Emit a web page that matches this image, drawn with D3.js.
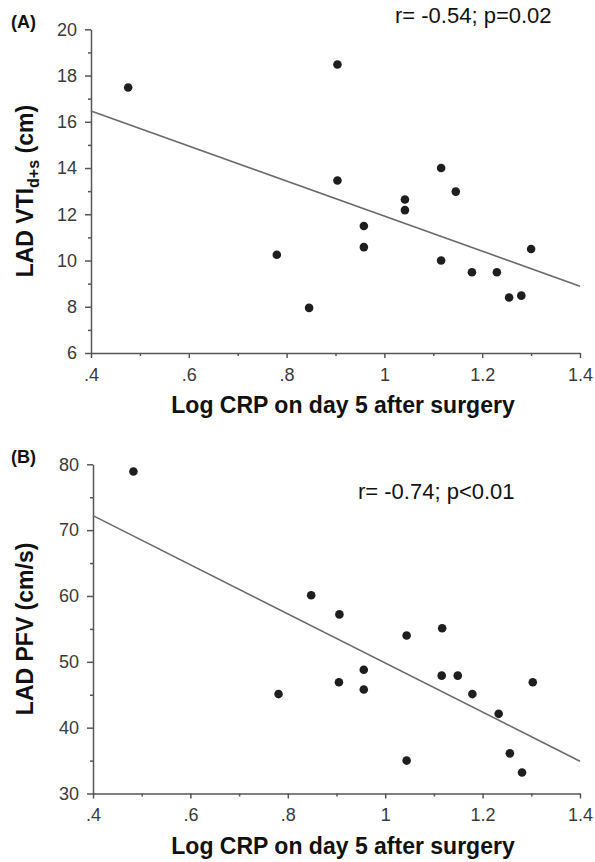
<!DOCTYPE html>
<html>
<head>
<meta charset="utf-8">
<script src="https://cdn.jsdelivr.net/npm/d3@7"></script>
<style>
  body { margin: 0; background: #fff; }
  svg { display: block; font-family: Arial, "Liberation Sans", sans-serif; }
</style>
</head>
<body>
<svg id="chart" width="595" height="862"></svg>
<script>
// values
const xTicks = [0.4, 0.6, 0.8, 1.0, 1.2, 1.4];
const xTickLabels = ['.4', '.6', '.8', '1', '1.2', '1.4'];
const xMinor = [0.5, 0.7, 0.9, 1.1, 1.3];

// panel A: LAD VTI d+s
const crpA = [0.476, 0.780, 0.846, 0.904, 0.904, 0.958, 0.958, 1.042, 1.042, 1.116, 1.116, 1.146, 1.179, 1.230, 1.255, 1.280, 1.300];
const vtiA = [17.48, 10.25, 7.95, 18.48, 13.46, 11.49, 10.58, 12.64, 12.18, 14.0, 10.0, 12.98, 9.49, 9.49, 8.40, 8.48, 10.5];
const yTicksA = [6, 8, 10, 12, 14, 16, 18, 20];
const yMinorA = [7, 9, 11, 13, 15, 17, 19];
const fitA = [16.47, 8.89];

// panel B: LAD PFV
const crpB = [0.483, 0.781, 0.848, 0.905, 0.906, 0.956, 0.956, 1.044, 1.044, 1.116, 1.117, 1.149, 1.179, 1.233, 1.256, 1.281, 1.303];
const pfvB = [78.9, 45.1, 60.1, 46.9, 57.2, 48.8, 45.8, 54.0, 35.0, 47.9, 55.1, 47.9, 45.1, 42.1, 36.1, 33.2, 46.9];
const yTicksB = [30, 40, 50, 60, 70, 80];
const yMinorB = [35, 45, 55, 65, 75];
const fitB = [72.2, 34.9];
const fitX = [0.4, 1.4];

const svg = d3.select('#chart');

function drawPanel(p) {
  let g = svg.append('g');

  let xScale = d3.scaleLinear().domain([0.4, 1.4]).range([p.left, 580]);
  let yScale = d3.scaleLinear().domain(p.yDomain).range([p.bottom, p.top]);

  // minor ticks first so the main axis sits on top
  g.append('g')
    .attr('transform', `translate(0, ${p.bottom})`)
    .call(d3.axisBottom(xScale).tickValues(xMinor).tickSize(3).tickSizeOuter(0).tickFormat(''))
    .call(a => a.select('.domain').remove());
  g.append('g')
    .attr('transform', `translate(${p.left}, 0)`)
    .call(d3.axisLeft(yScale).tickValues(p.yMinor).tickSize(3).tickSizeOuter(0).tickFormat(''))
    .call(a => a.select('.domain').remove());

  g.append('g')
    .attr('transform', `translate(0, ${p.bottom})`)
    .call(d3.axisBottom(xScale)
      .tickValues(xTicks)
      .tickSize(5)
      .tickSizeOuter(0)
      .tickPadding(10)
      .tickFormat((d, i) => xTickLabels[i]));

  g.append('g')
    .attr('transform', `translate(${p.left}, 0)`)
    .call(d3.axisLeft(yScale)
      .tickValues(p.yTicks)
      .tickSize(6)
      .tickSizeOuter(0)
      .tickPadding(8));

  g.selectAll('.tick line, .domain').attr('stroke', '#555').attr('stroke-width', 1.5);
  g.selectAll('.tick text')
    .attr('fill', '#3a3a3a')
    .style('font-size', '18px')
    .style('font-family', 'Arial, "Liberation Sans", sans-serif');

  // fitted line
  let line = d3.line()
    .x(d => xScale(d[0]))
    .y(d => yScale(d[1]));
  g.append('path')
    .datum(fitX.map((x, i) => [x, p.fit[i]]))
    .attr('d', line)
    .attr('fill', 'none')
    .attr('stroke', '#6a6a6a')
    .attr('stroke-width', 1.6);

  g.selectAll('circle.pt')
    .data(p.xs.map((x, i) => [x, p.ys[i]]))
    .enter()
    .append('circle')
      .attr('class', 'pt')
      .attr('cx', d => xScale(d[0]))
      .attr('cy', d => yScale(d[1]))
      .attr('r', 4.3)
      .attr('fill', '#1e1e1e');

  // panel letter
  g.append('text')
    .attr('x', 11)
    .attr('y', p.top - 1)
    .attr('font-size', 18)
    .attr('font-weight', 'bold')
    .attr('fill', '#111')
    .text(p.letter);

  // stats
  g.append('text')
    .attr('x', p.statX)
    .attr('y', p.statY)
    .attr('font-size', 22)
    .attr('fill', '#111')
    .text(p.stat);

  // x title
  g.append('text')
    .attr('x', 343)
    .attr('y', p.bottom + 60)
    .attr('text-anchor', 'middle')
    .attr('font-size', 23)
    .attr('font-weight', 'bold')
    .attr('fill', '#111')
    .text('Log CRP on day 5 after surgery');

  // y title
  let yt = g.append('text')
    .attr('transform', `translate(33, ${(p.top + p.bottom) / 2}) rotate(-90)`)
    .attr('text-anchor', 'middle')
    .attr('font-size', 23)
    .attr('font-weight', 'bold')
    .attr('fill', '#111');
  p.yTitle(yt);
}

drawPanel({
  letter: '(A)',
  left: 91, top: 29.3, bottom: 353,
  yDomain: [6, 20], yTicks: yTicksA, yMinor: yMinorA,
  xs: crpA, ys: vtiA, fit: fitA,
  stat: 'r= -0.54; p=0.02', statX: 395, statY: 23,
  yTitle: t => {
    t.append('tspan').text('LAD VTI');
    t.append('tspan').attr('dy', 6).attr('font-size', 16).text('d+s');
    t.append('tspan').attr('dy', -6).text(' (cm)');
  }
});

drawPanel({
  letter: '(B)',
  left: 93, top: 464.3, bottom: 793.5,
  yDomain: [30, 80], yTicks: yTicksB, yMinor: yMinorB,
  xs: crpB, ys: pfvB, fit: fitB,
  stat: 'r= -0.74; p<0.01', statX: 358, statY: 499,
  yTitle: t => t.text('LAD PFV (cm/s)')
});
</script>
</body>
</html>
